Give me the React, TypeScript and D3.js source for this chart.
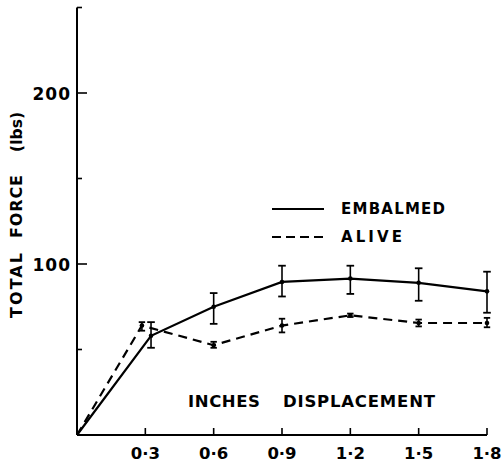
import React from "react";
import * as d3 from "d3";

const xTicks = [0.3, 0.6, 0.9, 1.2, 1.5, 1.8];
const xTickLabels = ["0·3", "0·6", "0·9", "1·2", "1·5", "1·8"];
const yMajorTicks = [100, 200];
const yMajorLabels = ["100", "200"];
const yMinorTicks = [50, 150, 250];

const embalmedX = [0, 0.325, 0.6, 0.9, 1.2, 1.5, 1.8];
const embalmedMean = [0, 58, 75, 89.5, 91.5, 89, 84];
const embalmedLo = [null, 51, 65, 81, 82.5, 78.5, 71.5];
const embalmedHi = [null, 66, 83, 99, 99, 97.5, 95.5];

const aliveX = [0, 0.285, 0.6, 0.9, 1.2, 1.5, 1.8];
const aliveMean = [0, 64, 52.5, 64, 70, 65.5, 65.5];
const aliveLo = [null, 61, 51, 60, 69, 63.5, 63];
const aliveHi = [null, 66, 54.5, 68, 71, 67.5, 68.5];

const W = 504;
const H = 463;
const FONT = "'DejaVu Sans', sans-serif";

export default function App() {
  const x = d3.scaleLinear().domain([0, 1.8]).range([77, 487]);
  const y = d3.scaleLinear().domain([0, 250]).range([435, 7.5]);
  const line = d3
    .line<[number, number]>()
    .x((d) => x(d[0]))
    .y((d) => y(d[1]));

  const emb: [number, number][] = embalmedX.map((v, i) => [v, embalmedMean[i]]);
  const alv: [number, number][] = aliveX.map((v, i) => [v, aliveMean[i]]);

  const errBars = (
    xs: number[],
    means: number[],
    lo: (number | null)[],
    hi: (number | null)[],
    cap: number,
    key: string
  ) =>
    xs.map((xv, i) => {
      const l = lo[i];
      const h = hi[i];
      if (l == null || h == null) return null;
      const cx = x(xv);
      return (
        <g key={key + i}>
          <line x1={cx} x2={cx} y1={y(l)} y2={y(h)} stroke="#000" strokeWidth={1.6} />
          <line x1={cx - cap} x2={cx + cap} y1={y(l)} y2={y(l)} stroke="#000" strokeWidth={1.8} />
          <line x1={cx - cap} x2={cx + cap} y1={y(h)} y2={y(h)} stroke="#000" strokeWidth={1.8} />
          <circle cx={cx} cy={y(means[i])} r={2.3} fill="#000" />
        </g>
      );
    });

  const txt = { fontFamily: FONT, fontWeight: "bold" as const };

  return (
    <svg
      width={W}
      height={H}
      style={{ position: "absolute", left: 0, top: 0, background: "#fff" }}
    >
      <rect width={W} height={H} fill="#fff" />
      {/* axes */}
      <line x1={x(0)} x2={x(0)} y1={y(250)} y2={y(0)} stroke="#000" strokeWidth={2} />
      <line x1={x(0)} x2={x(1.8)} y1={y(0)} y2={y(0)} stroke="#000" strokeWidth={2} />
      {yMajorTicks.map((t, i) => (
        <g key={"ym" + t}>
          <line x1={x(0)} x2={x(0) + 10} y1={y(t)} y2={y(t)} stroke="#000" strokeWidth={1.6} />
          <text x={71} y={y(t) + 6.5} textAnchor="end" {...txt} fontSize={17} letterSpacing={1}>
            {yMajorLabels[i]}
          </text>
        </g>
      ))}
      {yMinorTicks.map((t) => (
        <line key={"yn" + t} x1={x(0)} x2={x(0) + 5} y1={y(t)} y2={y(t)} stroke="#000" strokeWidth={1.6} />
      ))}
      {xTicks.map((t, i) => (
        <g key={"xt" + t}>
          <line x1={x(t)} x2={x(t)} y1={y(0)} y2={y(0) - 7} stroke="#000" strokeWidth={1.6} />
          <text x={x(t)} y={458.5} textAnchor="middle" {...txt} fontSize={16.5}>
            {xTickLabels[i]}
          </text>
        </g>
      ))}

      {/* series */}
      <path d={line(emb) || ""} fill="none" stroke="#000" strokeWidth={2.2} />
      <path d={line(alv) || ""} fill="none" stroke="#000" strokeWidth={2.2} strokeDasharray="9 6" />
      {errBars(embalmedX, embalmedMean, embalmedLo, embalmedHi, 3.8, "e")}
      {errBars(aliveX, aliveMean, aliveLo, aliveHi, 3.2, "a")}

      {/* legend */}
      <line x1={272} x2={324} y1={209} y2={209} stroke="#000" strokeWidth={2.2} />
      <text x={341} y={214} {...txt} fontSize={15} textLength={104} lengthAdjust="spacing">
        EMBALMED
      </text>
      <line x1={272} x2={324} y1={237} y2={237} stroke="#000" strokeWidth={2.2} strokeDasharray="9 5" />
      <text x={341} y={242} {...txt} fontSize={15} textLength={61} lengthAdjust="spacing">
        ALIVE
      </text>

      {/* axis titles */}
      <text x={188} y={407} {...txt} fontSize={16.5} textLength={72} lengthAdjust="spacing">
        INCHES
      </text>
      <text x={283} y={407} {...txt} fontSize={16.5} textLength={152} lengthAdjust="spacing">
        DISPLACEMENT
      </text>
      <g transform="translate(22,0) rotate(-90)">
        <text x={-318} y={0} {...txt} fontSize={16} textLength={65} lengthAdjust="spacing">
          TOTAL
        </text>
        <text x={-238} y={0} {...txt} fontSize={16} textLength={63} lengthAdjust="spacing">
          FORCE
        </text>
        <text x={-152} y={0} {...txt} fontSize={15.5} textLength={40} lengthAdjust="spacing">
          (lbs)
        </text>
      </g>
    </svg>
  );
}
